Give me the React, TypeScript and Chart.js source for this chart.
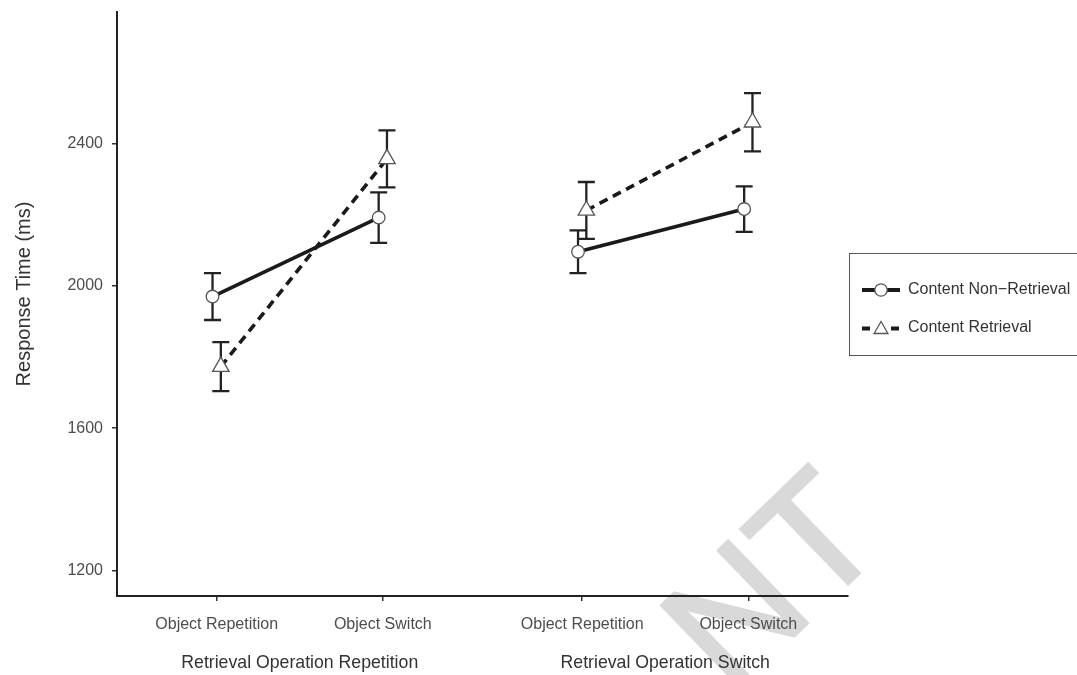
import { useEffect, useRef } from 'react';
import { Chart, registerables } from 'chart.js';

Chart.register(...registerables);

// Conditions along the x axis
const categoryLabels = ['Object Repetition', 'Object Switch', 'Object Repetition', 'Object Switch'];
const categoryPositions = [1, 2, 3.2, 4.2];
const categoryGroup = [0, 0, 1, 1];
const groupLabels = ['Retrieval Operation Repetition', 'Retrieval Operation Switch'];
const groupCenters = [1.5, 3.7];

// Mean response times (ms) and error-bar half-widths
const nonRetrievalMeans = [1970, 2192, 2096, 2216];
const nonRetrievalErrors = [66, 71, 60, 64];
const retrievalMeans = [1773, 2357, 2212, 2460];
const retrievalErrors = [69, 80, 80, 82];

const yTicks = [1200, 1600, 2000, 2400];
const seriesNames = ['Content Non\u2212Retrieval', 'Content Retrieval'];

const FONT = '"Liberation Sans", Arial, Helvetica, sans-serif';
const DODGE = 0.025;

type Pt = { x: number; y: number | null; err: number };

// one point per condition, with a gap between the two operation groups
function buildSeries(means: number[], errors: number[], offset: number): Pt[] {
  const out: Pt[] = [];
  means.forEach((m, i) => {
    if (i > 0 && categoryGroup[i] !== categoryGroup[i - 1]) {
      out.push({ x: (categoryPositions[i] + categoryPositions[i - 1]) / 2, y: null, err: 0 });
    }
    out.push({ x: categoryPositions[i] + offset, y: m, err: errors[i] });
  });
  return out;
}

const watermarkPlugin = {
  id: 'watermark',
  beforeDraw(chart: any) {
    const ctx = chart.ctx;
    ctx.save();
    ctx.translate(731, 697);
    ctx.rotate((-44 * Math.PI) / 180);
    ctx.font = `166px ${FONT}`;
    ctx.fillStyle = '#d9d9d9';
    ctx.strokeStyle = '#d9d9d9';
    ctx.lineWidth = 3;
    ctx.textAlign = 'left';
    ctx.textBaseline = 'alphabetic';
    ctx.fillText('NT', 0, 0);
    ctx.strokeText('NT', 0, 0);
    ctx.restore();
  },
};

const errorBarPlugin = {
  id: 'errorBars',
  beforeDatasetsDraw(chart: any) {
    const ctx = chart.ctx;
    const yScale = chart.scales.y;
    ctx.save();
    ctx.strokeStyle = '#222';
    ctx.lineWidth = 2.3;
    chart.data.datasets.forEach((ds: any, di: number) => {
      const meta = chart.getDatasetMeta(di);
      meta.data.forEach((el: any, i: number) => {
        const p = ds.data[i] as Pt;
        if (p.y == null) return;
        const x = el.x;
        const top = yScale.getPixelForValue(p.y + p.err);
        const bot = yScale.getPixelForValue(p.y - p.err);
        ctx.beginPath();
        ctx.moveTo(x, top);
        ctx.lineTo(x, bot);
        ctx.moveTo(x - 8.5, top);
        ctx.lineTo(x + 8.5, top);
        ctx.moveTo(x - 8.5, bot);
        ctx.lineTo(x + 8.5, bot);
        ctx.stroke();
      });
    });
    ctx.restore();
  },
};

const annotationPlugin = {
  id: 'annotations',
  afterDraw(chart: any) {
    const ctx = chart.ctx;
    const xScale = chart.scales.x;
    ctx.save();

    // y-axis title
    ctx.save();
    ctx.translate(29.5, 294);
    ctx.rotate(-Math.PI / 2);
    ctx.font = `20px ${FONT}`;
    ctx.fillStyle = '#333';
    ctx.textAlign = 'center';
    ctx.textBaseline = 'alphabetic';
    ctx.fillText('Response Time (ms)', 0, 0);
    ctx.restore();

    // group labels under the category ticks
    ctx.font = `17.7px ${FONT}`;
    ctx.fillStyle = '#333';
    ctx.textAlign = 'center';
    ctx.textBaseline = 'alphabetic';
    groupLabels.forEach((g, i) => {
      ctx.fillText(g, xScale.getPixelForValue(groupCenters[i]), 668);
    });

    // legend box
    ctx.strokeStyle = '#555';
    ctx.lineWidth = 1;
    ctx.strokeRect(849.5, 253.5, 250, 102);

    const rows = [290, 329.5];
    ctx.strokeStyle = '#1a1a1a';
    ctx.lineWidth = 3.8;
    ctx.setLineDash([]);
    // solid sample
    ctx.beginPath();
    ctx.moveTo(862, rows[0]);
    ctx.lineTo(900, rows[0]);
    ctx.stroke();
    // dashed sample
    ctx.beginPath();
    ctx.moveTo(862, rows[1] - 1);
    ctx.lineTo(870, rows[1] - 1);
    ctx.moveTo(891, rows[1] - 1);
    ctx.lineTo(899, rows[1] - 1);
    ctx.stroke();

    ctx.fillStyle = '#fff';
    ctx.strokeStyle = '#555';
    ctx.lineWidth = 1.3;
    ctx.beginPath();
    ctx.arc(881, rows[0], 6.2, 0, Math.PI * 2);
    ctx.fill();
    ctx.stroke();

    const r = 8;
    const cx = 881;
    const cy = rows[1];
    ctx.beginPath();
    ctx.moveTo(cx, cy - r);
    ctx.lineTo(cx + r * 0.866, cy + r / 2);
    ctx.lineTo(cx - r * 0.866, cy + r / 2);
    ctx.closePath();
    ctx.fill();
    ctx.stroke();

    ctx.font = `16px ${FONT}`;
    ctx.fillStyle = '#333';
    ctx.textAlign = 'left';
    ctx.textBaseline = 'middle';
    ctx.fillText(seriesNames[0], 908, 290);
    ctx.fillText(seriesNames[1], 908, 328);

    ctx.restore();
  },
};

export default function App() {
  const canvasRef = useRef<HTMLCanvasElement>(null);

  useEffect(() => {
    const canvas = canvasRef.current;
    if (!canvas) return;
    const chart = new Chart(canvas, {
      type: 'line',
      data: {
        datasets: [
          {
            label: seriesNames[0],
            data: buildSeries(nonRetrievalMeans, nonRetrievalErrors, -DODGE) as any,
            borderColor: '#1a1a1a',
            borderWidth: 3.6,
            pointStyle: 'circle',
            pointRadius: 6.3,
            pointHoverRadius: 6.3,
            pointBackgroundColor: '#fff',
            pointBorderColor: '#555',
            pointBorderWidth: 1.3,
            spanGaps: false,
            tension: 0,
          },
          {
            label: seriesNames[1],
            data: buildSeries(retrievalMeans, retrievalErrors, DODGE) as any,
            borderColor: '#1a1a1a',
            borderWidth: 3.6,
            borderDash: [9, 6],
            pointStyle: 'triangle',
            pointRadius: 9.5,
            pointHoverRadius: 9.5,
            pointBackgroundColor: '#fff',
            pointBorderColor: '#555',
            pointBorderWidth: 1.3,
            spanGaps: false,
            tension: 0,
          },
        ],
      },
      options: {
        animation: false,
        responsive: true,
        maintainAspectRatio: false,
        events: [],
        layout: { padding: { left: 0, top: 12, right: 229, bottom: 0 } },
        plugins: {
          legend: { display: false },
          tooltip: { enabled: false },
        },
        scales: {
          x: {
            type: 'linear',
            min: 0.4,
            max: 4.8,
            afterBuildTicks: (scale: any) => {
              scale.ticks = categoryPositions.map((v) => ({ value: v }));
            },
            afterFit: (scale: any) => {
              scale.height = 79;
              scale.paddingLeft = 0;
              scale.paddingRight = 0;
            },
            grid: {
              display: true,
              drawOnChartArea: false,
              drawTicks: true,
              tickLength: 5,
              color: '#333',
              lineWidth: 1.5,
            },
            border: { display: true, color: '#222', width: 2 },
            ticks: {
              padding: 14,
              maxRotation: 0,
              autoSkip: false,
              color: '#4d4d4d',
              font: { family: FONT, size: 16 },
              callback: (_v: any, i: number) => categoryLabels[i],
            },
          },
          y: {
            type: 'linear',
            min: 1128,
            max: 2770,
            afterBuildTicks: (scale: any) => {
              scale.ticks = yTicks.map((v) => ({ value: v }));
            },
            afterFit: (scale: any) => {
              scale.width = 117;
              scale.paddingTop = 0;
              scale.paddingBottom = 0;
            },
            grid: {
              display: true,
              drawOnChartArea: false,
              drawTicks: true,
              tickLength: 5,
              color: '#333',
              lineWidth: 1.5,
            },
            border: { display: true, color: '#222', width: 2 },
            ticks: {
              padding: 9,
              color: '#4d4d4d',
              font: { family: FONT, size: 16 },
              callback: (v: any) => String(v),
            },
          },
        },
      },
      plugins: [watermarkPlugin, errorBarPlugin, annotationPlugin],
    });
    return () => chart.destroy();
  }, []);

  return (
    <div style={{ position: 'fixed', left: 0, top: 0, width: 1077, height: 675, background: '#fff' }}>
      <canvas ref={canvasRef} />
    </div>
  );
}
